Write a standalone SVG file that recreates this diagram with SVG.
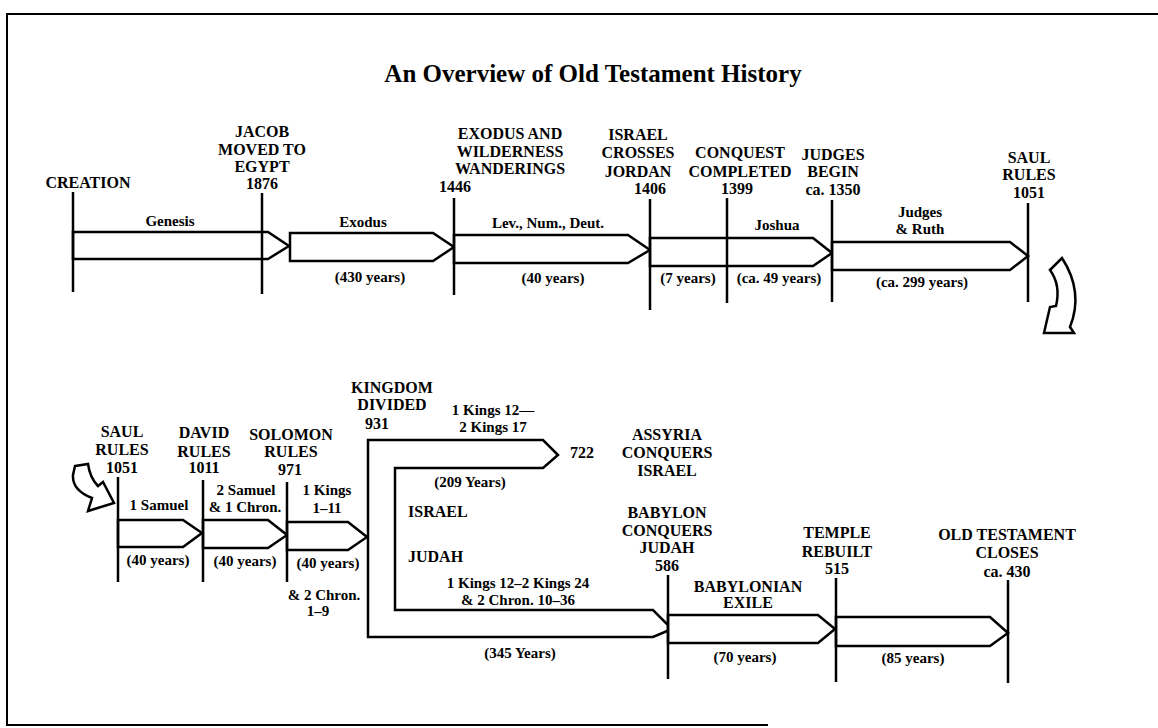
<svg xmlns="http://www.w3.org/2000/svg" width="1158" height="728" viewBox="0 0 1158 728">
<style>
text{font-family:"Liberation Serif","Times New Roman",serif;font-weight:bold;fill:#000;text-anchor:middle}
.cap{font-size:16px}
.lc{font-size:15px}
.title{font-size:25px}
.l{text-anchor:start}
.tick{stroke:#000;stroke-width:2.5;fill:none}
.bar{stroke:#000;stroke-width:2.5;fill:#fff;stroke-linejoin:miter}
.frame{stroke:#000;stroke-width:2;fill:none}
</style>
<rect width="1158" height="728" fill="#fff"/>
<g id="frame">
<path class="frame" d="M1158,14 L7,14 L7,725 L768,725"/>
</g>
<text class="title" x="593" y="82">An Overview of Old Testament History</text>

<!-- periods (top row) -->
<g id="p-genesis">
<polygon class="bar" points="73,232 268,232 289,246 268,259 73,259"/>
<text class="lc" x="170" y="226">Genesis</text>
</g>
<g id="p-exodus">
<polygon class="bar" points="290,233 433,233 454,247 433,261 290,261"/>
<text class="lc" x="363" y="227">Exodus</text>
<text class="lc" x="370" y="282">(430 years)</text>
</g>
<g id="p-lev">
<polygon class="bar" points="454,235 628,235 650,250 628,263 454,263"/>
<text class="lc" x="548" y="228">Lev., Num., Deut.</text>
<text class="lc" x="553" y="283">(40 years)</text>
</g>
<g id="p-joshua">
<polygon class="bar" points="650,238 813,238 832,253 813,266 650,266"/>
<text class="lc" x="777" y="230">Joshua</text>
<text class="lc" x="688" y="283">(7 years)</text>
<text class="lc" x="779" y="283">(ca. 49 years)</text>
</g>
<g id="p-judges">
<polygon class="bar" points="832,242 1010,242 1028,256 1010,270 832,270"/>
<text class="lc" x="920" y="217">Judges</text>
<text class="lc" x="920" y="234">&amp; Ruth</text>
<text class="lc" x="922" y="287">(ca. 299 years)</text>
</g>

<!-- events (top row) -->
<g id="e-creation">
<line class="tick" x1="73" y1="192" x2="73" y2="292"/>
<text class="cap" x="88" y="188">CREATION</text>
</g>
<g id="e-jacob">
<line class="tick" x1="262" y1="193" x2="262" y2="294"/>
<text class="cap" x="262" y="137">JACOB</text>
<text class="cap" x="262" y="155">MOVED TO</text>
<text class="cap" x="262" y="172">EGYPT</text>
<text class="cap" x="262" y="189">1876</text>
</g>
<g id="e-exodus">
<line class="tick" x1="454" y1="198" x2="454" y2="295"/>
<text class="cap" x="510" y="139">EXODUS AND</text>
<text class="cap" x="510" y="157">WILDERNESS</text>
<text class="cap" x="510" y="174">WANDERINGS</text>
<text class="cap" x="455" y="192">1446</text>
</g>
<g id="e-jordan">
<line class="tick" x1="650" y1="199" x2="650" y2="310"/>
<text class="cap" x="638" y="140">ISRAEL</text>
<text class="cap" x="638" y="158">CROSSES</text>
<text class="cap" x="638" y="177">JORDAN</text>
<text class="cap" x="650" y="194">1406</text>
</g>
<g id="e-conquest">
<line class="tick" x1="727" y1="198" x2="727" y2="303"/>
<text class="cap" x="740" y="158">CONQUEST</text>
<text class="cap" x="740" y="177">COMPLETED</text>
<text class="cap" x="737" y="194">1399</text>
</g>
<g id="e-judges">
<line class="tick" x1="832" y1="200" x2="832" y2="302"/>
<text class="cap" x="833" y="160">JUDGES</text>
<text class="cap" x="833" y="177">BEGIN</text>
<text class="cap" x="833" y="195">ca. 1350</text>
</g>
<g id="e-saul-top">
<line class="tick" x1="1028" y1="203" x2="1028" y2="302"/>
<text class="cap" x="1029" y="163">SAUL</text>
<text class="cap" x="1029" y="180">RULES</text>
<text class="cap" x="1029" y="198">1051</text>
</g>

<!-- periods (bottom row) -->
<g id="p-1samuel">
<polygon class="bar" points="118,520 183,520 202,533 183,547 118,547"/>
<text class="lc" x="159" y="510">1 Samuel</text>
<text class="lc" x="158" y="565">(40 years)</text>
</g>
<g id="p-2samuel">
<polygon class="bar" points="203,520 268,520 287,535 268,548 203,548"/>
<text class="lc" x="246" y="495">2 Samuel</text>
<text class="lc" x="245" y="512">&amp; 1 Chron.</text>
<text class="lc" x="245" y="566">(40 years)</text>
</g>
<g id="p-1kings">
<polygon class="bar" points="287,522 348,522 367,537 348,550 287,550"/>
<text class="lc" x="327" y="495">1 Kings</text>
<text class="lc" x="327" y="513">1–11</text>
<text class="lc" x="328" y="568">(40 years)</text>
<text class="lc" x="324" y="600">&amp; 2 Chron.</text>
<text class="lc" x="318" y="616">1–9</text>
</g>
<g id="p-divided">
<polygon class="bar" points="368,440 543,440 558,455 543,468 395,468 395,610 653,610 672,629 653,637 368,637"/>
<text class="lc" x="493" y="415">1 Kings 12—</text>
<text class="lc" x="493" y="432">2 Kings 17</text>
<text class="cap" x="582" y="458">722</text>
<text class="lc" x="470" y="487">(209 Years)</text>
<text class="cap l" x="408" y="517">ISRAEL</text>
<text class="cap l" x="408" y="562">JUDAH</text>
<text class="lc" x="518" y="588">1 Kings 12–2 Kings 24</text>
<text class="lc" x="518" y="605">&amp; 2 Chron. 10–36</text>
<text class="lc" x="520" y="658">(345 Years)</text>
</g>
<g id="p-exile">
<polygon class="bar" points="668,615 818,615 835,629 818,643 668,643"/>
<text class="cap" x="748" y="592">BABYLONIAN</text>
<text class="cap" x="748" y="608">EXILE</text>
<text class="lc" x="745" y="662">(70 years)</text>
</g>
<g id="p-return">
<polygon class="bar" points="836,617 990,617 1008,633 990,646 836,646"/>
<text class="lc" x="913" y="663">(85 years)</text>
</g>

<!-- events (bottom row) -->
<g id="e-saul">
<line class="tick" x1="118" y1="477" x2="118" y2="582"/>
<text class="cap" x="122" y="437">SAUL</text>
<text class="cap" x="122" y="455">RULES</text>
<text class="cap" x="122" y="473">1051</text>
</g>
<g id="e-david">
<line class="tick" x1="203" y1="480" x2="203" y2="582"/>
<text class="cap" x="204" y="438">DAVID</text>
<text class="cap" x="204" y="457">RULES</text>
<text class="cap" x="204" y="473">1011</text>
</g>
<g id="e-solomon">
<line class="tick" x1="287" y1="482" x2="287" y2="582"/>
<text class="cap" x="291" y="440">SOLOMON</text>
<text class="cap" x="291" y="457">RULES</text>
<text class="cap" x="290" y="475">971</text>
</g>
<g id="e-divided">
<text class="cap" x="392" y="393">KINGDOM</text>
<text class="cap" x="392" y="410">DIVIDED</text>
<text class="cap" x="377" y="429">931</text>
</g>
<g id="e-assyria">
<text class="cap" x="667" y="440">ASSYRIA</text>
<text class="cap" x="667" y="458">CONQUERS</text>
<text class="cap" x="667" y="476">ISRAEL</text>
</g>
<g id="e-babylon">
<line class="tick" x1="668" y1="575" x2="668" y2="679"/>
<text class="cap" x="667" y="518">BABYLON</text>
<text class="cap" x="667" y="536">CONQUERS</text>
<text class="cap" x="667" y="553">JUDAH</text>
<text class="cap" x="667" y="571">586</text>
</g>
<g id="e-temple">
<line class="tick" x1="836" y1="578" x2="836" y2="682"/>
<text class="cap" x="837" y="538">TEMPLE</text>
<text class="cap" x="837" y="557">REBUILT</text>
<text class="cap" x="837" y="574">515</text>
</g>
<g id="e-closes">
<line class="tick" x1="1008" y1="580" x2="1008" y2="683"/>
<text class="cap" x="1007" y="540">OLD TESTAMENT</text>
<text class="cap" x="1007" y="558">CLOSES</text>
<text class="cap" x="1007" y="577">ca. 430</text>
</g>

<!-- connectors: curved continuation arrows -->
<g id="connectors">
<path class="bar" d="M1050,270 L1062,258 Q1084,292 1070,327 L1074,333 L1044,333 L1050,307 L1056,306 Q1061,285 1050,270 Z"/>
<path class="bar" d="M75,466 L88,464 Q90,478 98,486 L103,482 L114,503 L88,511 L92,498 Q72,490 73,475 Z"/>
</g>
</svg>
